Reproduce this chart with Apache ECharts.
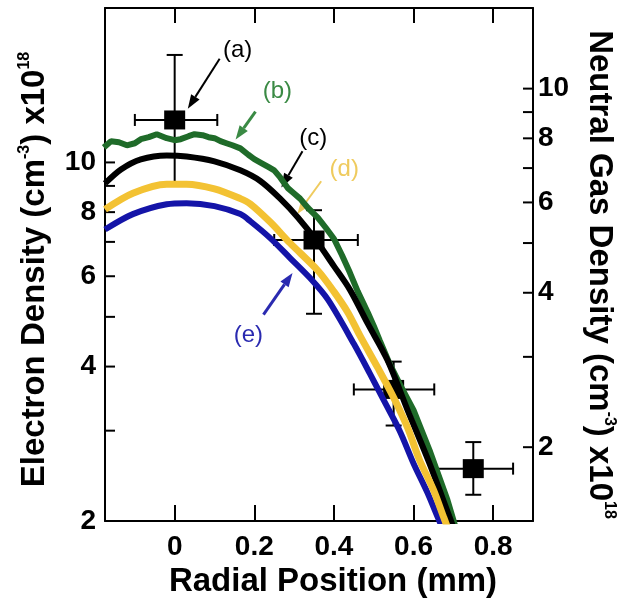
<!DOCTYPE html>
<html><head><meta charset="utf-8">
<script src="https://cdn.jsdelivr.net/npm/echarts@6/dist/echarts.min.js"></script>
<style>html,body{margin:0;padding:0;background:#fff}#c{width:625px;height:610px}</style>
</head><body><div id="c"></div>
<script>
// ---------- data ----------
const greenX = [-0.178,-0.16,-0.14,-0.12,-0.1,-0.085,-0.065,-0.045,-0.02,0.0,0.015,0.035,0.05,0.07,0.085,0.1,0.115,0.13,0.145,0.165,0.185,0.2,0.22,0.235,0.25,0.265,0.285,0.3,0.315,0.335,0.36,0.38,0.4,0.42,0.44,0.46,0.485,0.5,0.515,0.54,0.565,0.6,0.64,0.685,0.705];
const greenY = [10.7,11.0,10.95,10.8,10.9,11.1,11.2,11.35,11.15,11.05,11.1,11.25,11.35,11.3,11.2,11.15,11.0,10.9,10.8,10.65,10.35,10.15,9.95,9.8,9.65,9.35,8.9,8.7,8.5,8.15,7.8,7.45,7.1,6.6,6.1,5.6,5.1,4.8,4.5,4.05,3.7,3.29,2.75,2.2,1.95];
const blackX = [-0.175,-0.135,-0.085,-0.02,0.03,0.1,0.165,0.215,0.265,0.31,0.355,0.4,0.44,0.485,0.535,0.585,0.64,0.69,0.705];
const blackY = [9.1,9.69,10.14,10.32,10.27,10.05,9.65,9.2,8.5,7.8,7.05,6.28,5.65,4.85,4.11,3.29,2.59,2.04,1.9];
const yellowX = [-0.175,-0.105,-0.02,0.03,0.1,0.165,0.19,0.24,0.29,0.36,0.4,0.435,0.465,0.51,0.55,0.585,0.615,0.65,0.675,0.69];
const yellowY = [8.1,8.71,9.07,9.07,8.88,8.5,8.3,7.65,6.96,6.15,5.6,5.1,4.6,3.98,3.48,3.04,2.63,2.30,2.04,1.9];
const blueX = [-0.175,-0.105,-0.02,0.03,0.1,0.165,0.19,0.24,0.29,0.34,0.385,0.45,0.49,0.525,0.565,0.6,0.635,0.66,0.675];
const blueY = [7.4,7.93,8.29,8.33,8.22,7.93,7.68,7.12,6.51,5.95,5.4,4.43,3.88,3.44,3.00,2.59,2.27,2.04,1.92];

const sqX = [0, 0.35, 0.55, 0.75];
const sqY = [12.1, 7.06, 3.61, 2.53];
const sqXLow = [-0.1, 0.25, 0.45, 0.655];
const sqXHigh = [0.107, 0.46, 0.652, 0.85];
const sqYLow = [9.06, 5.07, 3.07, 2.25];
const sqYHigh = [16.2, 8.07, 4.09, 2.85];

const annTexts = ['(a)','(b)','(c)','(d)','(e)'];
const annLabelX = [0.158, 0.258, 0.348, 0.426, 0.185];
const annLabelY = [16.57, 13.74, 11.13, 9.69, 4.61];
const annFromX = [0.113, 0.203, 0.321, 0.368, 0.223];
const annFromY = [15.92, 12.56, 10.51, 9.19, 5.05];
const annToX = [0.033, 0.153, 0.268, 0.308, 0.296];
const annToY = [12.73, 11.08, 8.94, 7.93, 6.09];

const leftTicks = [2,3,4,5,6,7,8,9,10];
const leftLabelValues = [2,4,6,8,10];
const leftLabelTexts = ['2','4','6','8','10'];
const rightTicks = [2,3,4,5,6,7,8,9,10];
const rightLabelValues = [2,4,6,8,10];
const rightLabelTexts = ['2','4','6','8','10'];

const xMin = -0.175, xMax = 0.9;
const leftMin = 2, leftMax = 20;
const rightMin = 1.436, rightMax = 14.36;

// ---------- styles ----------
const FONT = 'Liberation Sans, Arial, sans-serif';
const cGreen = '#1f6b29', cBlack = '#000000', cYellow = '#f3c233', cBlue = '#1414a8';
const annColors = ['#000000', '#3a8a44', '#000000', '#efcb5e', '#2a2ab0'];
const annWidths = [2, 3, 2, 2, 3];

const zip = (xs, ys) => xs.map((x, i) => [x, ys[i]]);

function tickRenderer(labelValues, labelTexts, side) {
  return function (params, api) {
    const cs = params.coordSys;
    const v = api.value(1);
    const y = api.coord([0, v])[1];
    const x0 = side === 'left' ? cs.x : cs.x + cs.width;
    const dir = side === 'left' ? 1 : -1;
    const children = [{
      type: 'line', shape: { x1: x0, y1: y, x2: x0 + dir * 10, y2: y },
      style: { stroke: '#000', lineWidth: 2 }
    }];
    const idx = labelValues.indexOf(v);
    if (idx >= 0) {
      children.push({
        type: 'text',
        style: {
          text: labelTexts[idx], x: side === 'left' ? x0 - 9 : x0 + 5, y: y,
          align: side === 'left' ? 'right' : 'left', verticalAlign: 'middle',
          textAlign: side === 'left' ? 'right' : 'left', textVerticalAlign: 'middle',
          fontSize: 28, fontWeight: 'bold', fontFamily: FONT, fill: '#000'
        }
      });
    }
    return { type: 'group', children };
  };
}

function errRender(params, api) {
  const x = api.value(0), y = api.value(1);
  const c = api.coord([x, y]);
  const xl = api.coord([api.value(2), y]);
  const xh = api.coord([api.value(3), y]);
  const yl = api.coord([x, api.value(4)]);
  const yh = api.coord([x, api.value(5)]);
  const st = { stroke: '#000', lineWidth: 2 };
  const L = (x1, y1, x2, y2) => ({ type: 'line', shape: { x1, y1, x2, y2 }, style: st });
  return {
    type: 'group', children: [
      L(xl[0], c[1], xh[0], c[1]),
      L(xl[0], c[1] - 6, xl[0], c[1] + 6),
      L(xh[0], c[1] - 6, xh[0], c[1] + 6),
      L(c[0], yl[1], c[0], yh[1]),
      L(c[0] - 8, yl[1], c[0] + 8, yl[1]),
      L(c[0] - 8, yh[1], c[0] + 8, yh[1])
    ]
  };
}

function annRender(params, api) {
  const i = api.value(6);
  const lp = api.coord([api.value(0), api.value(1)]);
  const f = api.coord([api.value(2), api.value(3)]);
  const t = api.coord([api.value(4), api.value(5)]);
  const col = annColors[i];
  const dx = t[0] - f[0], dy = t[1] - f[1];
  const len = Math.sqrt(dx * dx + dy * dy);
  const ux = dx / len, uy = dy / len;
  const hl = 14, hw = 5;
  const bx = t[0] - ux * hl, by = t[1] - uy * hl;
  return {
    type: 'group', children: [
      { type: 'line', shape: { x1: f[0], y1: f[1], x2: bx, y2: by }, style: { stroke: col, lineWidth: annWidths[i] } },
      { type: 'polygon', shape: { points: [[t[0], t[1]], [bx - uy * hw, by + ux * hw], [bx + uy * hw, by - ux * hw]] }, style: { fill: col } },
      { type: 'text', style: { text: annTexts[i], x: lp[0], y: lp[1], align: 'center', verticalAlign: 'middle', textAlign: 'center', textVerticalAlign: 'middle', fontSize: 24, fontFamily: FONT, fill: col } }
    ]
  };
}

const chart = echarts.init(document.getElementById('c'), null, { renderer: 'canvas' });
const axisLineStyle = { show: true, onZero: false, lineStyle: { color: '#000', width: 2 } };
const richName = {
  t: { fontSize: 33, fontWeight: 'bold', fontFamily: FONT, color: '#000', lineHeight: 36 },
  s: { fontSize: 16, fontWeight: 'bold', fontFamily: FONT, color: '#000', verticalAlign: 'top', lineHeight: 36 }
};

chart.setOption({
  animation: false,
  backgroundColor: '#fff',
  grid: { left: 105, right: 92, top: 8, bottom: 89, containLabel: false },
  xAxis: [
    {
      type: 'value', min: xMin, max: xMax, position: 'bottom',
      axisLine: axisLineStyle,
      axisTick: { show: true, inside: true, length: 16, lineStyle: { color: '#000', width: 2 } },
      axisLabel: { show: true, margin: 12, showMinLabel: false, showMaxLabel: false,
        fontSize: 28, fontWeight: 'bold', fontFamily: FONT, color: '#000',
        formatter: v => String(v) },
      splitLine: { show: false },
      name: 'Radial Position (mm)', nameLocation: 'middle', nameGap: 40,
      nameTextStyle: { fontSize: 33, fontWeight: 'bold', fontFamily: FONT, color: '#000', padding: [0, 0, 0, 28] }
    },
    {
      type: 'value', min: xMin, max: xMax, position: 'top',
      axisLine: axisLineStyle,
      axisTick: { show: true, inside: true, length: 15, lineStyle: { color: '#000', width: 2 } },
      axisLabel: { show: false }, splitLine: { show: false }
    }
  ],
  yAxis: [
    {
      type: 'log', logBase: 10, min: leftMin, max: leftMax, position: 'left',
      axisLine: axisLineStyle, axisTick: { show: false }, axisLabel: { show: false },
      splitLine: { show: false }, minorTick: { show: false },
      name: '{t|Electron Density (cm}{s|-3}{t|) x10}{s|18}',
      nameLocation: 'middle', nameGap: 52, nameRotate: 90,
      nameTextStyle: { padding: [0, 10, 0, 0], rich: richName }
    },
    {
      type: 'log', logBase: 10, min: rightMin, max: rightMax, position: 'right',
      axisLine: axisLineStyle, axisTick: { show: false }, axisLabel: { show: false },
      splitLine: { show: false }, minorTick: { show: false },
      name: '{t|Neutral Gas Density (cm}{s|-3}{t|) x10}{s|18}',
      nameLocation: 'middle', nameGap: 48, nameRotate: -90,
      nameTextStyle: { padding: [0, 0, 0, 20], rich: richName }
    }
  ],
  series: [
    { name: '(b)', type: 'line', data: zip(greenX, greenY), symbol: 'none', smooth: false,
      lineStyle: { color: cGreen, width: 6 }, clip: true },
    { name: '(c)', type: 'line', data: zip(blackX, blackY), symbol: 'none', smooth: 0.3,
      lineStyle: { color: cBlack, width: 6 }, clip: true },
    { name: '(e)', type: 'line', data: zip(blueX, blueY), symbol: 'none', smooth: 0.3,
      lineStyle: { color: cBlue, width: 6 }, clip: true },
    { name: '(d)', type: 'line', data: zip(yellowX, yellowY), symbol: 'none', smooth: 0.3,
      lineStyle: { color: cYellow, width: 7 }, clip: true },
    { name: 'err', type: 'custom', renderItem: errRender, clip: false,
      encode: { x: 0, y: 1 },
      data: sqX.map((x, i) => [x, sqY[i], sqXLow[i], sqXHigh[i], sqYLow[i], sqYHigh[i]]) },
    { name: '(a)', type: 'scatter', data: zip(sqX, sqY), symbol: 'rect', symbolSize: [21, 19],
      itemStyle: { color: '#000', opacity: 1 } },
    { name: 'ann', type: 'custom', renderItem: annRender, clip: false,
      encode: { x: 0, y: 1 },
      data: annTexts.map((t, i) => [annLabelX[i], annLabelY[i], annFromX[i], annFromY[i], annToX[i], annToY[i], i]) },
    { name: 'leftTicks', type: 'custom', yAxisIndex: 0, clip: false, silent: true,
      renderItem: tickRenderer(leftLabelValues, leftLabelTexts, 'left'),
      encode: { x: 0, y: 1 }, data: leftTicks.map(v => [0, v]) },
    { name: 'rightTicks', type: 'custom', yAxisIndex: 1, clip: false, silent: true,
      renderItem: tickRenderer(rightLabelValues, rightLabelTexts, 'right'),
      encode: { x: 0, y: 1 }, data: rightTicks.map(v => [0, v]) }
  ]
});
</script>
</body></html>
